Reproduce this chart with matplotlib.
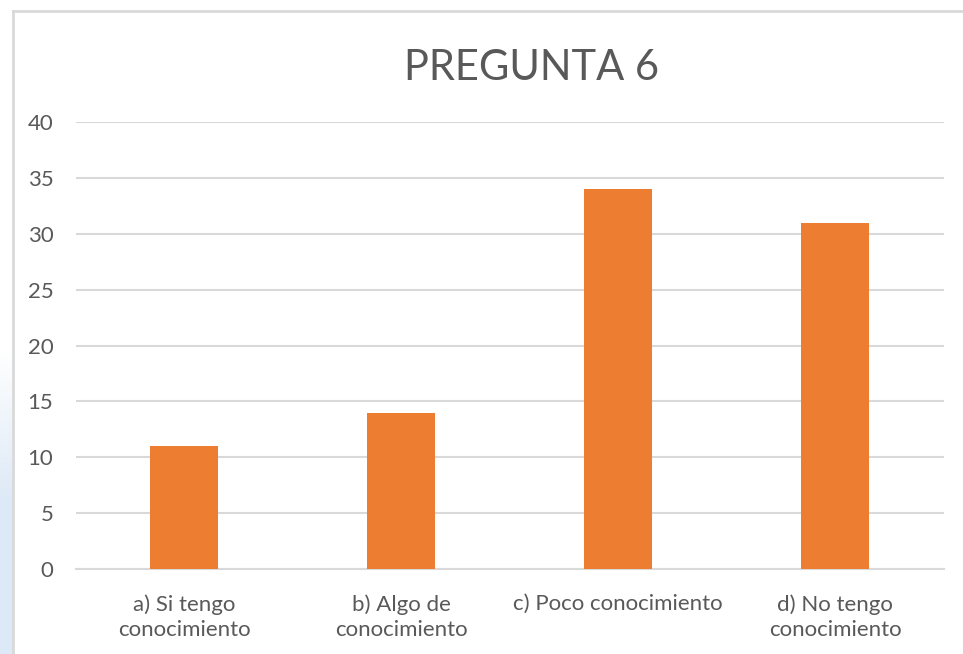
import matplotlib
matplotlib.use("Agg")
import matplotlib.pyplot as plt
import numpy as np
from matplotlib.lines import Line2D

categories = ["a) Si tengo\nconocimiento", "b) Algo de\nconocimiento",
              "c) Poco conocimiento", "d) No tengo\nconocimiento"]
values = [11, 14, 34, 31]
yticks = [0, 5, 10, 15, 20, 25, 30, 35, 40]
title = "PREGUNTA 6"

W, H = 963, 654
fig = plt.figure(figsize=(W / 100, H / 100), dpi=100)
fig.patch.set_facecolor("white")

# light blue strip at left edge (fading)
strip = fig.add_axes([0, 0, 12 / W, 1])
grad = np.zeros((H, 1, 4))
ys = np.arange(H)
alpha = np.clip((ys - 350) / 150.0, 0, 1)
grad[:, 0, 0] = 0xdd / 255
grad[:, 0, 1] = 0xe9 / 255
grad[:, 0, 2] = 0xf6 / 255
grad[:, 0, 3] = alpha
strip.imshow(grad, aspect="auto", extent=[0, 1, H, 0])
strip.set_xlim(0, 1)
strip.set_ylim(H, 0)
strip.axis("off")

# chart border
bx = 12.5 / W
by = 1 - 10.5 / H
fig.add_artist(Line2D([bx, bx], [0, by], transform=fig.transFigure, color="#d9d9d9", lw=2))
fig.add_artist(Line2D([bx, 1], [by, by], transform=fig.transFigure, color="#d9d9d9", lw=2))

ax = fig.add_axes([75.5 / W, 1 - 569 / H, (943.5 - 75.5) / W, (569 - 122) / H])
x = np.arange(len(categories))
ax.bar(x, values, width=0.313, color="#ED7D31", zorder=3)
ax.set_xlim(-0.5, len(categories) - 0.5)
ax.set_ylim(0, 40)
ax.set_yticks(yticks)
ax.set_yticklabels([str(t) for t in yticks])
ax.yaxis.grid(True, color="#d9d9d9", lw=1.5, zorder=0)
ax.set_axisbelow(True)
for s in ["top", "right", "left"]:
    ax.spines[s].set_visible(False)
ax.spines["bottom"].set_color("#d9d9d9")
ax.spines["bottom"].set_linewidth(1.5)
ax.tick_params(axis="both", length=0, colors="#595959")
ax.tick_params(axis="y", pad=16, labelsize=16)
ax.set_xticks(x)
ax.set_xticklabels(categories, linespacing=1.35)
ax.tick_params(axis="x", pad=18, labelsize=16)
for lbl in ax.get_xticklabels() + ax.get_yticklabels():
    lbl.set_fontfamily("Lato")
    lbl.set_color("#595959")

fig.text(531 / W, 1 - 68 / H, title, ha="center", va="center",
         fontsize=30, color="#595959", fontfamily="Lato")

fig.savefig("out.png", dpi=100, facecolor="white")
